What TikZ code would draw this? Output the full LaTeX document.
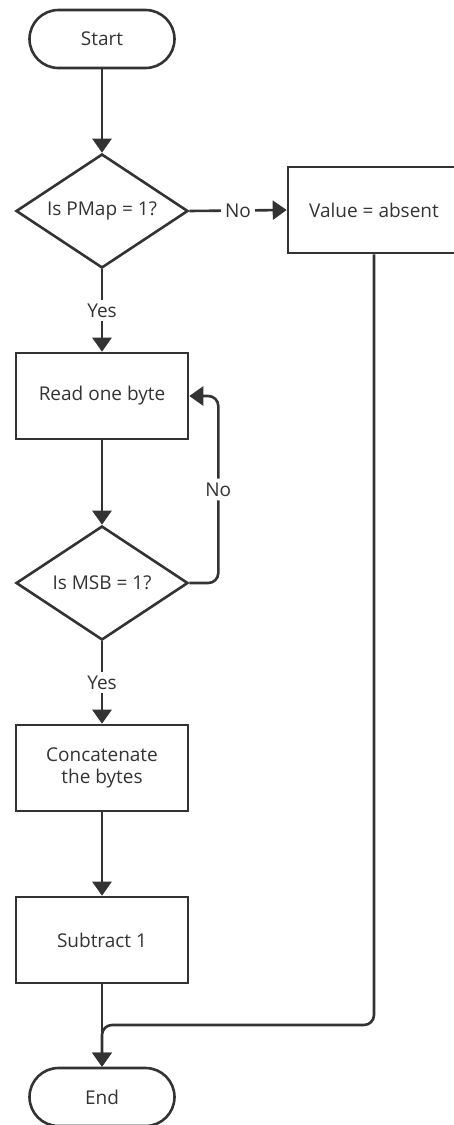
\documentclass[tikz,border=0pt]{standalone}
\usepackage{fontspec}
\setmainfont{Open Sans}
\usetikzlibrary{shapes.geometric,arrows.meta}
\definecolor{ink}{HTML}{333333}
\begin{document}
\begin{tikzpicture}[x=1pt,y=-1pt,
  line width=2.6pt, draw=ink, text=ink,
  every node/.style={font=\fontsize{19}{25}\selectfont, text=ink},
  terminal/.style={draw=ink, rectangle, rounded corners=29pt,
    minimum width=145pt, minimum height=58pt, inner sep=0pt},
  process/.style={draw=ink, rectangle, minimum width=172pt,
    minimum height=86pt, inner sep=0pt, align=center},
  decision/.style={draw=ink, diamond, aspect=1.5, minimum width=172pt,
    minimum height=114pt, inner sep=0pt},
  flow/.style={draw=ink, -{Triangle[length=14pt,width=19pt]}},
  tag/.style={fill=white, inner sep=4pt}
]
\useasboundingbox (0,0) rectangle (454,1125);

% shapes
\node[terminal] (start) at (102,39) {Start};
\node[decision] (pmap) at (102,211) {Is PMap = 1?};
\node[process]  (absent) at (374,210) {Value = absent};
\node[process]  (read) at (102,396) {Read one byte};
\node[decision] (msb) at (102,583) {Is MSB = 1?};
\node[process]  (concat) at (102,768) {Concatenate\\[-3pt]the bytes};
\node[process]  (sub) at (102,940) {Subtract 1};
\node[terminal] (stop) at (102,1097) {End};
\coordinate (merge) at (102,1025);

% connectors
\draw[flow] (start) -- (pmap);
\draw[flow] (pmap.east) -- node[tag] {No} (absent.west);
\draw[flow] (pmap.south) -- node[tag] {Yes} (read.north);
\draw[flow] (read) -- (msb);
\draw[flow, rounded corners=10pt] (msb.east) -- ++(29,0)
  |- node[tag, pos=0.25] {No} (read.east);
\draw[flow] (msb.south) -- node[tag] {Yes} (concat.north);
\draw[flow] (concat) -- (sub);
\draw[flow] (sub) -- (stop);
\draw[flow, rounded corners=10pt] (absent.south) |- (merge) -- (stop.north);
\end{tikzpicture}
\end{document}
